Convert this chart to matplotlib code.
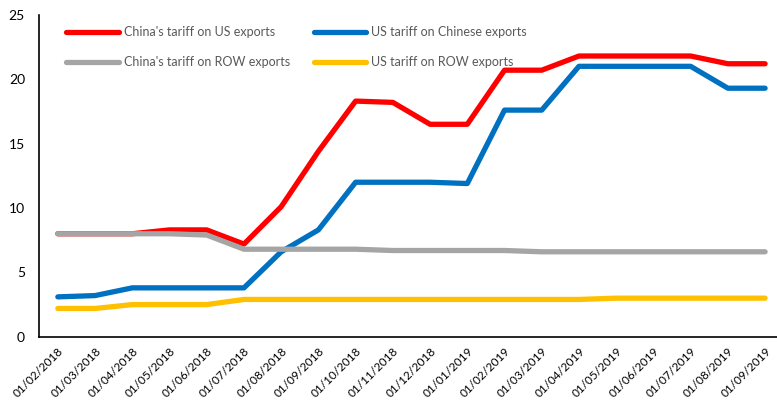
import matplotlib
matplotlib.use("Agg")
import matplotlib.pyplot as plt

plt.rcParams['font.family'] = ['Lato', 'DejaVu Sans']

dates = ["01/02/2018", "01/03/2018", "01/04/2018", "01/05/2018", "01/06/2018",
         "01/07/2018", "01/08/2018", "01/09/2018", "01/10/2018", "01/11/2018",
         "01/12/2018", "01/01/2019", "01/02/2019", "01/03/2019", "01/04/2019",
         "01/05/2019", "01/06/2019", "01/07/2019", "01/08/2019", "01/09/2019"]

china_on_us = [8.0, 8.0, 8.0, 8.3, 8.3, 7.2, 10.1, 14.4, 18.3, 18.2,
               16.5, 16.5, 20.7, 20.7, 21.8, 21.8, 21.8, 21.8, 21.2, 21.2]
us_on_china = [3.1, 3.2, 3.8, 3.8, 3.8, 3.8, 6.6, 8.3, 12.0, 12.0,
               12.0, 11.9, 17.6, 17.6, 21.0, 21.0, 21.0, 21.0, 19.3, 19.3]
china_on_row = [8.0, 8.0, 8.0, 8.0, 7.9, 6.8, 6.8, 6.8, 6.8, 6.7,
                6.7, 6.7, 6.7, 6.6, 6.6, 6.6, 6.6, 6.6, 6.6, 6.6]
us_on_row = [2.2, 2.2, 2.5, 2.5, 2.5, 2.9, 2.9, 2.9, 2.9, 2.9,
             2.9, 2.9, 2.9, 2.9, 2.9, 3.0, 3.0, 3.0, 3.0, 3.0]

fig = plt.figure(figsize=(7.77, 4.0), dpi=100)
ax = fig.add_axes([0.050, 0.158, 0.950, 0.805])

x = range(len(dates))
lw = 3.8
l1, = ax.plot(x, china_on_us, color="#ff0000", lw=lw, solid_capstyle="round",
              label="China's tariff on US exports", zorder=4)
l2, = ax.plot(x, us_on_china, color="#0070c0", lw=lw, solid_capstyle="round",
              label="US tariff on Chinese exports", zorder=3)
l3, = ax.plot(x, china_on_row, color="#a5a5a5", lw=lw, solid_capstyle="round",
              label="China's tariff on ROW exports", zorder=5)
l4, = ax.plot(x, us_on_row, color="#ffc000", lw=lw, solid_capstyle="round",
              label="US tariff on ROW exports", zorder=2)

ax.set_ylim(0, 25)
ax.set_xlim(-0.51, 19.32)
ax.set_yticks([0, 5, 10, 15, 20, 25])
ax.set_xticks(list(x))
ax.set_xticklabels(dates, rotation=45, ha="right", rotation_mode="anchor", fontsize=8.5)
ax.tick_params(axis="both", length=0)
ax.tick_params(axis="y", labelsize=10, pad=10)
ax.tick_params(axis="x", pad=6)

for s in ["top", "right"]:
    ax.spines[s].set_visible(False)
for s in ["left", "bottom"]:
    ax.spines[s].set_color("black")
    ax.spines[s].set_linewidth(1.2)

# matplotlib fills legend columns first, so order handles column by column
leg = ax.legend([l1, l3, l2, l4], [l.get_label() for l in (l1, l3, l2, l4)],
                ncol=2, loc="upper left", bbox_to_anchor=(0.022, 1.0), frameon=False,
                fontsize=9, handlelength=4.2, columnspacing=1.9, labelspacing=1.45,
                handletextpad=0.4)
for t in leg.get_texts():
    t.set_color("#595959")

fig.savefig("out.png", dpi=100)
